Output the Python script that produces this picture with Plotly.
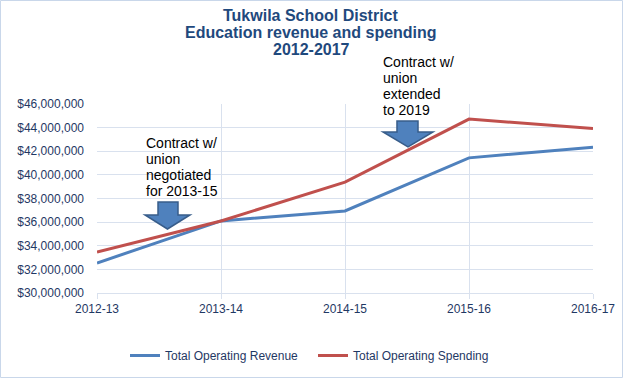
import plotly.graph_objects as go

years = ["2012-13", "2013-14", "2014-15", "2015-16", "2016-17"]
revenue = [32540000, 36100000, 36950000, 41440000, 42350000]
spending = [33470000, 36100000, 39380000, 44720000, 43920000]
y_ticks = list(range(30000000, 46000001, 2000000))
y_tick_labels = ["${:,}".format(v) for v in y_ticks]
title_lines = ["Tukwila School District", "Education revenue and spending", "2012-2017"]
note1_lines = ["Contract w/", "union", "negotiated", "for 2013-15"]
note2_lines = ["Contract w/", "union", "extended", "to 2019"]

W, H = 623, 378
L, R, T, B = 97, 30, 104, 85
PW, PH = W - L - R, H - T - B

def px(x):
    return (x - L) / PW

def py(y):
    return (H - B - y) / PH

def arrow_path(x0, x1, sx0, sx1, top, hy, tip):
    xc = (x0 + x1) / 2
    pts = [(sx0, top), (sx1, top), (sx1, hy), (x1, hy), (xc, tip), (x0, hy), (sx0, hy)]
    return "M " + " L ".join(f"{px(a):.4f},{py(b):.4f}" for a, b in pts) + " Z"

fig = go.Figure()
fig.add_trace(go.Scatter(x=years, y=revenue, mode="lines", name="Total Operating Revenue",
                         line=dict(color="#4F81BD", width=3)))
fig.add_trace(go.Scatter(x=years, y=spending, mode="lines", name="Total Operating Spending",
                         line=dict(color="#C0504D", width=3)))

font = "Liberation Sans, Arial, sans-serif"
fig.update_layout(
    width=W, height=H,
    margin=dict(l=L, r=R, t=T, b=B, autoexpand=False),
    paper_bgcolor="white", plot_bgcolor="white",
    font=dict(family=font, size=12, color="#1F3864"),
    showlegend=True,
    legend=dict(orientation="h", x=px(125), xanchor="left", y=py(341), yanchor="top",
                font=dict(size=12, color="#1F3864"), itemwidth=30, tracegroupgap=0,
                entrywidth=143, entrywidthmode="pixels", bgcolor="rgba(0,0,0,0)"),
    xaxis=dict(showgrid=True, gridcolor="#D9E1EE", gridwidth=1, range=[0, 4], automargin=False,
               ticks="outside", ticklen=5, tickcolor="#D9E1EE", showline=True,
               linecolor="#D9E1EE", tickfont=dict(size=12, color="#1F3864")),
    yaxis=dict(showgrid=True, gridcolor="#D9E1EE", gridwidth=1, range=[30000000, 46000000],
               tickvals=y_ticks, ticktext=y_tick_labels, zeroline=False, automargin=False,
               tickfont=dict(size=12, color="#1F3864"), ticklabelstandoff=12),
)

for i, t in enumerate(title_lines):
    fig.add_annotation(xref="paper", yref="paper", x=px(311), y=py(15 + 17 * i),
                       xanchor="center", yanchor="middle", text=f"<b>{t}</b>", showarrow=False,
                       font=dict(family=font, size=16, color="#1F497D"))

for i, t in enumerate(note1_lines):
    fig.add_annotation(xref="paper", yref="paper", x=px(144), y=py(143 + 16 * i),
                       xanchor="left", yanchor="middle", text=t, showarrow=False,
                       font=dict(family=font, size=14, color="black"))
for i, t in enumerate(note2_lines):
    fig.add_annotation(xref="paper", yref="paper", x=px(381), y=py(62 + 16 * i),
                       xanchor="left", yanchor="middle", text=t, showarrow=False,
                       font=dict(family=font, size=14, color="black"))

fig.add_shape(type="path", xref="paper", yref="paper",
              path=arrow_path(145, 190, 158, 178, 202, 215, 229),
              fillcolor="#4F81BD", line=dict(color="#385D8A", width=1.5))
fig.add_shape(type="path", xref="paper", yref="paper",
              path=arrow_path(383, 433, 397, 418, 121, 132, 147),
              fillcolor="#4F81BD", line=dict(color="#385D8A", width=1.5))

fig.add_shape(type="rect", xref="paper", yref="paper",
              x0=px(0.5), x1=px(622.5), y0=py(377.5), y1=py(0.5),
              line=dict(color="#C9D7EA", width=1), fillcolor="rgba(0,0,0,0)", layer="below")

fig.write_html("out.html", config={"displayModeBar": False},
               post_script="document.body.style.margin='0';document.body.style.overflow='hidden';")
